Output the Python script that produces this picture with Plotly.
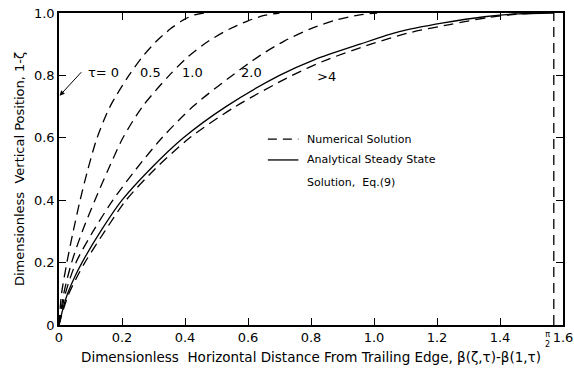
import plotly.graph_objects as go

# ---- data ----
y_steady = [0, 0.05, 0.10, 0.15, 0.20, 0.30, 0.40, 0.50, 0.60, 0.70, 0.80, 0.85, 0.90, 0.94, 0.968, 0.988, 0.997, 1.0]
x_steady = [0, 0.012, 0.027, 0.048, 0.073, 0.132, 0.200, 0.290, 0.395, 0.530, 0.700, 0.810, 0.955, 1.080, 1.220, 1.350, 1.450, 1.5708]

y_t4 = [0, 0.05, 0.10, 0.15, 0.20, 0.30, 0.40, 0.50, 0.60, 0.70, 0.80, 0.85, 0.90, 0.935, 0.963, 0.985, 0.996, 1.0]
x_t4 = [0, 0.014, 0.031, 0.055, 0.082, 0.145, 0.213, 0.305, 0.415, 0.560, 0.740, 0.850, 0.990, 1.105, 1.240, 1.360, 1.450, 1.520]

y_t2 = [0, 0.1, 0.2, 0.3, 0.4, 0.5, 0.6, 0.7, 0.8, 0.865, 0.91, 0.95, 0.978, 0.994, 1.0]
x_t2 = [0, 0.020, 0.054, 0.108, 0.171, 0.245, 0.327, 0.425, 0.550, 0.640, 0.715, 0.800, 0.880, 0.955, 1.010]

y_t1 = [0, 0.1, 0.2, 0.3, 0.4, 0.5, 0.6, 0.7, 0.8, 0.86, 0.91, 0.948, 0.975, 0.993, 1.0]
x_t1 = [0, 0.015, 0.040, 0.074, 0.114, 0.157, 0.203, 0.265, 0.350, 0.410, 0.475, 0.540, 0.600, 0.655, 0.700]

y_t05 = [0, 0.1, 0.2, 0.3, 0.4, 0.5, 0.6, 0.7, 0.8, 0.86, 0.91, 0.95, 0.978, 0.994, 1.0]
x_t05 = [0, 0.008, 0.025, 0.045, 0.067, 0.092, 0.121, 0.162, 0.222, 0.265, 0.310, 0.355, 0.395, 0.430, 0.460]

x_ticks = [0, 0.2, 0.4, 0.6, 0.8, 1.0, 1.2, 1.4, 1.6]
x_ticktext = ["0", "0.2", "0.4", "0.6", "0.8", "1.0", "1.2", "1.4", "1.6"]
y_ticks = [0, 0.2, 0.4, 0.6, 0.8, 1.0]
y_ticktext = ["0", "0.2", "0.4", "0.6", "0.8", "1.0"]

curve_labels = ["0.5", "1.0", "2.0", ">4"]
curve_label_x = [0.29, 0.425, 0.61, 0.85]
curve_label_y = [0.81, 0.81, 0.81, 0.795]

HALF_PI = 1.5708

FONT = "DejaVu Sans"
DASH = "10px,6px"

fig = go.Figure()

for xs, ys in [(x_t05, y_t05), (x_t1, y_t1), (x_t2, y_t2), (x_t4, y_t4)]:
    fig.add_trace(go.Scatter(x=xs, y=ys, mode="lines",
                             line=dict(color="black", width=1.3, dash=DASH, shape="spline", smoothing=0.8),
                             showlegend=False, hoverinfo="skip"))

fig.add_trace(go.Scatter(x=x_steady, y=y_steady, mode="lines",
                         line=dict(color="black", width=1.3, shape="spline", smoothing=0.8),
                         showlegend=False, hoverinfo="skip"))

# vertical dashed line at pi/2
fig.add_trace(go.Scatter(x=[HALF_PI, HALF_PI], y=[0, 1.0], mode="lines",
                         line=dict(color="black", width=1.3, dash=DASH),
                         showlegend=False, hoverinfo="skip"))

annotations = []
for t, xx, yy in zip(curve_labels, curve_label_x, curve_label_y):
    annotations.append(dict(x=xx, y=yy, xref="x", yref="y", text=t, showarrow=False,
                            font=dict(family=FONT, size=13, color="black")))

# tau = 0 label with arrow to the axis
annotations.append(dict(x=0.14, y=0.81, xref="x", yref="y", text="τ= 0", showarrow=False,
                        font=dict(family=FONT, size=13, color="black")))
annotations.append(dict(x=0.002, y=0.735, xref="x", yref="y", ax=0.075, ay=0.815,
                        axref="x", ayref="y", text="", showarrow=True,
                        arrowhead=2, arrowsize=1, arrowwidth=1, arrowcolor="black"))

# pi/2 label
annotations.append(dict(x=1.55, y=0, xref="x", yref="paper", yanchor="top", yshift=-3,
                        text="π<br>2", showarrow=False,
                        font=dict(family=FONT, size=8, color="black")))

# legend
annotations.append(dict(x=0.78, y=0.596, xref="x", yref="y", xanchor="left",
                        text="Numerical Solution", showarrow=False,
                        font=dict(family=FONT, size=11, color="black")))
annotations.append(dict(x=0.78, y=0.529, xref="x", yref="y", xanchor="left",
                        text="Analytical Steady State", showarrow=False,
                        font=dict(family=FONT, size=11, color="black")))
annotations.append(dict(x=0.78, y=0.458, xref="x", yref="y", xanchor="left",
                        text="Solution,  Eq.(9)", showarrow=False,
                        font=dict(family=FONT, size=11, color="black")))

shapes = [
    dict(type="line", xref="x", yref="y", x0=0.663, x1=0.76, y0=0.596, y1=0.596,
         line=dict(color="black", width=1.3, dash="9px,6px")),
    dict(type="line", xref="x", yref="y", x0=0.663, x1=0.76, y0=0.529, y1=0.529,
         line=dict(color="black", width=1.3)),
]

axis_common = dict(showgrid=False, zeroline=False, showline=True, linecolor="black", linewidth=1.5,
                   mirror="ticks", ticks="inside", ticklen=7, tickcolor="black", tickwidth=1,
                   automargin=False,
                   tickfont=dict(family=FONT, size=13, color="black"))

fig.update_layout(
    template="none",
    width=574, height=370,
    margin=dict(l=59, r=11, t=13, b=45, pad=0),
    paper_bgcolor="white", plot_bgcolor="white",
    xaxis=dict(range=[0, 1.6], tickvals=x_ticks, ticktext=x_ticktext,
               title=dict(text="Dimensionless  Horizontal Distance From Trailing Edge, β(ζ,τ)-β(1,τ)",
                          font=dict(family=FONT, size=13.5, color="black"), standoff=8),
               **axis_common),
    yaxis=dict(range=[0, 1.0], tickvals=y_ticks, ticktext=y_ticktext,
               title=dict(text="Dimensionless  Vertical Position, 1-ζ",
                          font=dict(family=FONT, size=13, color="black"), standoff=6),
               **axis_common),
    annotations=annotations,
    shapes=shapes,
)

fig.write_html("out.html")
